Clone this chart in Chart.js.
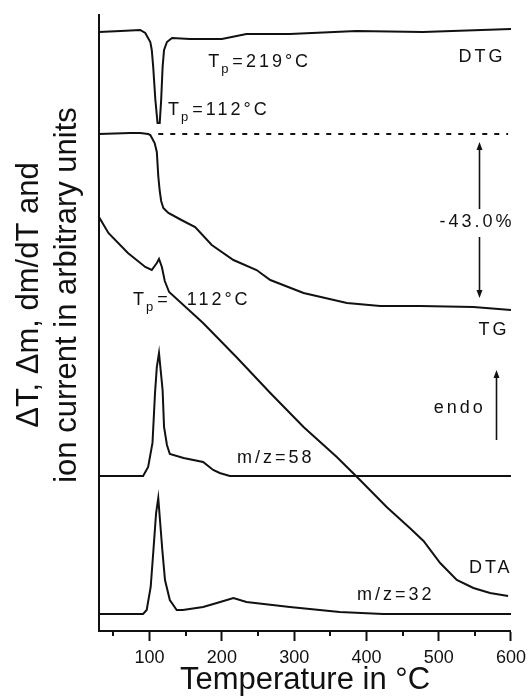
<!DOCTYPE html>
<html>
<head>
<meta charset="utf-8">
<script src="https://cdn.jsdelivr.net/npm/chart.js@4/dist/chart.umd.min.js"></script>
<style>
  html, body { margin: 0; padding: 0; background: #fff; }
</style>
</head>
<body>
<canvas id="thermoChart" width="532" height="699"></canvas>
<script>
// temperatures in °C, signals in arbitrary units (curves are offset vertically)
const dtgTemp  = [30, 60, 87, 94, 101, 103, 105, 108, 111, 114, 116, 118, 120, 124, 131, 156, 200, 234, 294, 386, 478, 600];
const dtgValue = [599, 600, 601, 598, 589, 581, 564, 531, 508, 508, 531, 564, 581, 589, 593, 592, 592, 597, 597, 600, 599, 602];

const tgTemp  = [30, 73, 87, 98, 101, 107, 110, 112, 114, 116, 119, 126, 144, 163, 186, 216, 248, 267, 313, 373, 419, 474, 548, 600];
const tgValue = [497, 498, 498, 497, 496, 488, 479, 455, 440, 430, 423, 418, 411, 404, 386, 371, 361, 351, 338, 328, 325, 325, 324, 321];

const tgStartTemp  = [112, 596];
const tgStartValue = [497, 497];

const dtaTemp  = [30, 43, 70, 94, 103, 110, 113, 117, 121, 127, 174, 220, 267, 313, 359, 387, 428, 460, 479, 502, 525, 548, 571, 596];
const dtaValue = [414, 398, 378, 364, 361, 368, 372, 364, 350, 339, 308, 274, 238, 204, 174, 154, 124, 103, 90, 68, 51, 43, 38, 35];

const mz58Temp  = [30, 91, 98, 104, 107.5, 110, 113, 118, 120, 124, 128, 147, 174, 188, 197, 211, 600];
const mz58Value = [155, 155, 164, 188, 238, 264, 278, 241, 204, 186, 177, 173, 169, 161, 158, 155, 155];

const mz32Temp  = [30, 91, 96, 101.5, 105, 109, 112, 117.6, 121.3, 128, 137.5, 146, 174, 193, 216, 234, 294, 363, 423, 600];
const mz32Value = [17, 17, 21, 44, 78, 118, 133, 81, 51, 31, 21, 21, 24, 28, 33, 29, 24, 19, 17, 17];

const xTicks = [100, 200, 300, 400, 500, 600];
const xMinorTicks = [50, 150, 250, 350, 450, 550];

const FONT = '"Liberation Sans", Arial, sans-serif';
const INK = '#111';

// labels placed in data coordinates
const notes = [
  { main: 'T', sub: 'p', rest: '=219°C', t: 181, v: 564, align: 'left' },
  { main: 'T', sub: 'p', rest: '=112°C', t: 125.5, v: 516, align: 'left' },
  { main: 'DTG', t: 560, v: 569, align: 'center' },
  { main: '-43.0%', t: 553, v: 404, align: 'center' },
  { main: 'TG', t: 576.5, v: 296, align: 'center' },
  { main: 'T', sub: 'p', rest: '=  112°C', t: 77, v: 326, align: 'left' },
  { main: 'endo', t: 529, v: 218, align: 'center' },
  { main: 'm/z=58', t: 221, v: 168, align: 'left' },
  { main: 'm/z=32', t: 387, v: 31, align: 'left' },
  { main: 'DTA', t: 572, v: 58, align: 'center' }
];

// vertical arrows: [temperature, from, to] with the head at "to"
const arrows = [
  [556, 422, 489],
  [556, 394, 333],
  [579, 191, 261]
];

const pts = (ts, vs) => ts.map((t, i) => ({ x: t, y: vs[i] }));

function lineSet(label, ts, vs, dash) {
  return {
    label,
    data: pts(ts, vs),
    borderColor: INK,
    borderWidth: 2,
    borderDash: dash || [],
    pointRadius: 0,
    tension: 0,
    fill: false
  };
}

const extras = {
  id: 'extras',
  afterDraw(chart) {
    const { ctx, scales: { x, y } } = chart;
    ctx.save();
    ctx.fillStyle = INK;
    ctx.strokeStyle = INK;

    // minor ticks
    ctx.lineWidth = 2;
    xMinorTicks.forEach(v => {
      const px = Math.round(x.getPixelForValue(v));
      ctx.beginPath();
      ctx.moveTo(px, x.top);
      ctx.lineTo(px, x.top + 5);
      ctx.stroke();
    });

    // arrows
    ctx.lineWidth = 1.6;
    arrows.forEach(([t, from, to]) => {
      const px = Math.round(x.getPixelForValue(t)) + 0.5;
      const y0 = y.getPixelForValue(from);
      const y1 = y.getPixelForValue(to);
      const dir = y1 < y0 ? 1 : -1;
      ctx.beginPath();
      ctx.moveTo(px, y0);
      ctx.lineTo(px, y1 + dir * 5);
      ctx.stroke();
      ctx.beginPath();
      ctx.moveTo(px, y1);
      ctx.lineTo(px - 3, y1 + dir * 8);
      ctx.lineTo(px + 3, y1 + dir * 8);
      ctx.closePath();
      ctx.fill();
    });

    // annotations
    if ('letterSpacing' in ctx) ctx.letterSpacing = '3px';
    ctx.textBaseline = 'alphabetic';
    ctx.textAlign = 'left';
    const big = '18px ' + FONT;
    const small = '13px ' + FONT;
    notes.forEach(n => {
      ctx.font = big;
      const wMain = ctx.measureText(n.main).width;
      const wRest = n.rest ? ctx.measureText(n.rest).width : 0;
      ctx.font = small;
      const wSub = n.sub ? ctx.measureText(n.sub).width : 0;
      const total = wMain + wSub + wRest;
      let px = x.getPixelForValue(n.t);
      const py = y.getPixelForValue(n.v);
      if (n.align === 'center') px -= total / 2;
      ctx.font = big;
      ctx.fillText(n.main, px, py);
      px += wMain;
      if (n.sub) {
        ctx.font = small;
        ctx.fillText(n.sub, px - 1, py + 6);
        px += wSub;
      }
      if (n.rest) {
        ctx.font = big;
        ctx.fillText(n.rest, px, py);
      }
    });

    // y axis title (two lines)
    if ('letterSpacing' in ctx) ctx.letterSpacing = '0px';
    ctx.font = '31px ' + FONT;
    ctx.textAlign = 'center';
    ctx.textBaseline = 'middle';
    ctx.translate(0, 295);
    ctx.rotate(-Math.PI / 2);
    ctx.fillText('\u0394T, \u0394m, dm/dT and', 0, 29);
    ctx.fillText('ion current in arbitrary units', 0, 67);
    ctx.restore();
  }
};

new Chart(document.getElementById('thermoChart').getContext('2d'), {
  type: 'line',
  data: {
    datasets: [
      lineSet('DTG', dtgTemp, dtgValue),
      lineSet('TG', tgTemp, tgValue),
      lineSet('TG start', tgStartTemp, tgStartValue, [5, 7]),
      lineSet('DTA', dtaTemp, dtaValue),
      lineSet('m/z=58', mz58Temp, mz58Value),
      lineSet('m/z=32', mz32Temp, mz32Value)
    ]
  },
  options: {
    responsive: false,
    animation: false,
    layout: { padding: { top: 15, right: 21, left: 0, bottom: 0 } },
    plugins: {
      legend: { display: false },
      tooltip: { enabled: false }
    },
    scales: {
      x: {
        type: 'linear',
        min: 30,
        max: 600,
        afterBuildTicks: axis => { axis.ticks = xTicks.map(v => ({ value: v })); },
        afterFit: axis => { axis.height = 68; },
        grid: { drawOnChartArea: false, drawTicks: true, tickLength: 10, tickWidth: 2, tickColor: INK },
        border: { display: true, color: INK, width: 2 },
        ticks: { color: INK, font: { family: FONT, size: 18 }, padding: 6, maxRotation: 0 },
        title: {
          display: true,
          text: 'Temperature in °C',
          color: INK,
          font: { family: FONT, size: 31, lineHeight: 1.2 },
          padding: { top: 0, bottom: 0 }
        }
      },
      y: {
        type: 'linear',
        min: 0,
        max: 616,
        afterFit: axis => { axis.width = 99; },
        grid: { drawOnChartArea: false, drawTicks: false },
        border: { display: true, color: INK, width: 2 },
        ticks: { display: false }
      }
    }
  },
  plugins: [extras]
});
</script>
</body>
</html>
